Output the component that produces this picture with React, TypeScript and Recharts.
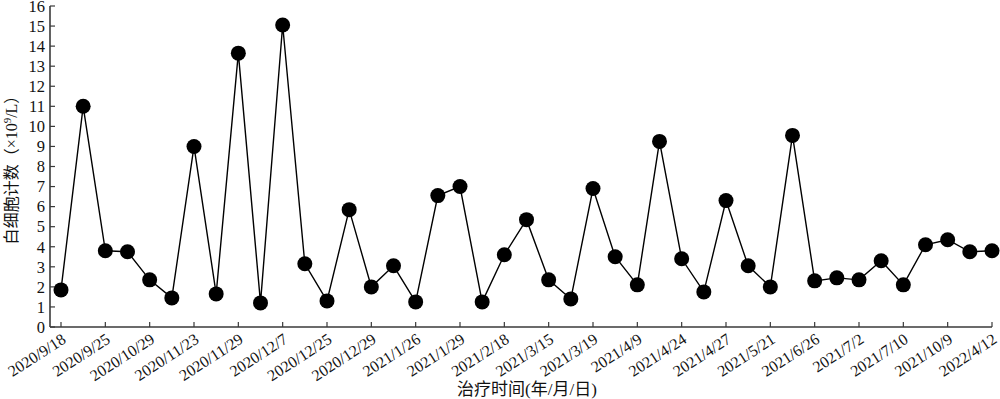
import React from 'react';
import { LineChart, Line, XAxis, YAxis, Label } from 'recharts';

document.body.style.margin = '0';

// dates shown under every other sample
const dateLabels = [
    '2020/9/18', '2020/9/25', '2020/10/29', '2020/11/23', '2020/11/29', '2020/12/7',
    '2020/12/25', '2020/12/29', '2021/1/26', '2021/1/29', '2021/2/18', '2021/3/15',
    '2021/3/19', '2021/4/9', '2021/4/24', '2021/4/27', '2021/5/21', '2021/6/26',
    '2021/7/2', '2021/7/10', '2021/10/9', '2022/4/12',
];

// white cell count (x10^9/L), one value per test
const wbcValues = [
    1.85, 11.0, 3.8, 3.75, 2.35, 1.45, 9.0, 1.65, 13.65, 1.2, 15.05, 3.15, 1.3, 5.85,
    2.0, 3.05, 1.25, 6.55, 7.0, 1.25, 3.6, 5.35, 2.35, 1.4, 6.9, 3.5, 2.1, 9.25,
    3.4, 1.75, 6.3, 3.05, 2.0, 9.55, 2.3, 2.45, 2.35, 3.3, 2.1, 4.1, 4.35, 3.75, 3.8,
];

const yTicks = [0, 1, 2, 3, 4, 5, 6, 7, 8, 9, 10, 11, 12, 13, 14, 15, 16];

const data = wbcValues.map((v, i) => ({
    label: i % 2 === 0 ? dateLabels[i / 2] : '',
    value: v,
}));

const FONT = '"Liberation Serif", "Times New Roman", "Noto Sans CJK SC", serif';
const AXIS = '#3a3a3a';

const XTick = (props: any) => {
    const { x, y, payload } = props;
    if (!payload.value) return null;
    const tx = x + 6;
    const ty = y + 15;
    return (
        <g>
            <line x1={x} y1={y} x2={x} y2={y - 5} stroke={AXIS} strokeWidth={1.2} />
            <text
                x={tx}
                y={ty}
                textAnchor="end"
                transform={`rotate(-33, ${tx}, ${ty})`}
                fontFamily={FONT}
                fontSize={16}
                fill="#111"
            >
                {payload.value}
            </text>
        </g>
    );
};

const YTick = (props: any) => {
    const { x, y, payload } = props;
    return (
        <g>
            <line x1={x} y1={y} x2={x + 5} y2={y} stroke={AXIS} strokeWidth={1.2} />
            <text x={x - 5} y={y} dy="0.35em" textAnchor="end" fontFamily={FONT} fontSize={16.5} fill="#111">
                {payload.value}
            </text>
        </g>
    );
};

const YLabel = () => (
    <text
        x={17}
        y={166}
        textAnchor="middle"
        transform="rotate(-90, 17, 166)"
        fontFamily={FONT}
        fontSize={16}
        fill="#111"
    >
        白细胞计数（×10<tspan dy={-6} fontSize={11}>9</tspan><tspan dy={6}>/L）</tspan>
    </text>
);

const XLabel = () => (
    <text x={527} y={395} textAnchor="middle" fontFamily={FONT} fontSize={17} fill="#111">
        治疗时间(年/月/日)
    </text>
);

export default function App() {
    return (
        <div style={{ width: 1000, height: 399, background: '#fff' }}>
            <LineChart width={1000} height={399} data={data} margin={{ top: 6, right: 8, bottom: 7, left: 10 }}>
                <XAxis
                    dataKey="label"
                    interval={0}
                    height={65}
                    padding={{ left: 11, right: 0 }}
                    tickLine={false}
                    tickSize={0}
                    tickMargin={0}
                    tick={<XTick />}
                    axisLine={{ stroke: AXIS, strokeWidth: 1.6 }}
                >
                    <Label content={<XLabel />} />
                </XAxis>
                <YAxis
                    width={40}
                    domain={[0, 16]}
                    ticks={yTicks}
                    interval={0}
                    tickLine={false}
                    tickSize={0}
                    tickMargin={0}
                    tick={<YTick />}
                    axisLine={{ stroke: AXIS, strokeWidth: 1.6 }}
                >
                    <Label content={<YLabel />} />
                </YAxis>
                <Line
                    dataKey="value"
                    stroke="#000"
                    strokeWidth={1.4}
                    dot={{ r: 7.5, fill: '#000', stroke: '#000', strokeWidth: 0 }}
                    activeDot={false}
                    isAnimationActive={false}
                />
            </LineChart>
        </div>
    );
}
